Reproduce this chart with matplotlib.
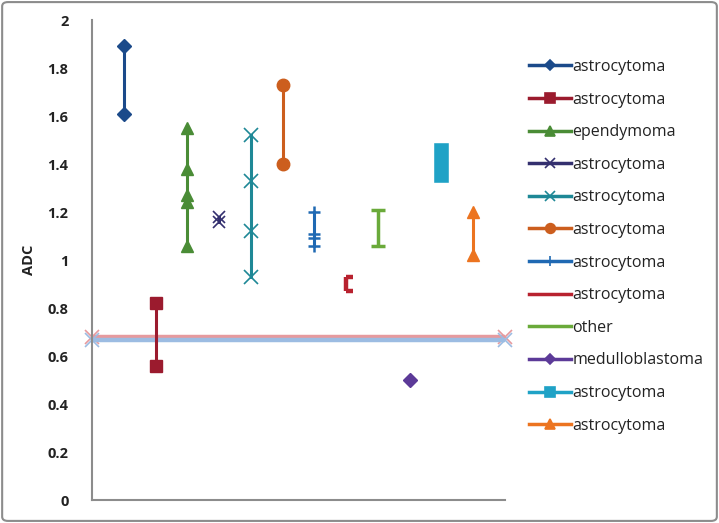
import matplotlib
matplotlib.use("Agg")
import matplotlib.pyplot as plt
from matplotlib.lines import Line2D
from matplotlib.patches import FancyBboxPatch

# ---------------- data ----------------
labels = ["astrocytoma", "astrocytoma", "ependymoma", "astrocytoma", "astrocytoma",
          "astrocytoma", "astrocytoma", "astrocytoma", "other", "medulloblastoma",
          "astrocytoma", "astrocytoma"]
s1 = [1.89, 1.61]
s2 = [0.82, 0.56]
s3 = [1.55, 1.38, 1.27, 1.24, 1.06]
s4 = [1.18, 1.16]
s5 = [1.52, 1.33, 1.12, 0.93]
s6 = [1.73, 1.40]
s7 = [1.20, 1.11, 1.09, 1.06]
s8 = [0.93, 0.87]
s9 = [1.21, 1.06]
s10 = [0.50]
s11 = [1.46, 1.355]
s12 = [1.20, 1.02]
series = [s1, s2, s3, s4, s5, s6, s7, s8, s9, s10, s11, s12]
ref_pink = 0.68
ref_blue = 0.665
ref_x = [0, 13]
yticks = [0, 0.2, 0.4, 0.6, 0.8, 1, 1.2, 1.4, 1.6, 1.8, 2]
ytick_labels = ["0", "0.2", "0.4", "0.6", "0.8", "1", "1.2", "1.4", "1.6", "1.8", "2"]

# ---------------- styles ----------------
colors = ["#1B4A8A", "#9B1B2E", "#4A8C36", "#34306F", "#1E8896", "#CC5E1E",
          "#1F69B3", "#B8222F", "#6AAA3A", "#5C3A98", "#1FA2C6", "#EC7420"]
markers = ["D", "s", "^", "x", "x", "o", "+", None, None, "D", "s", "^"]
msizes = [7, 8.5, 9, 8, 10, 9, 9, 0, 0, 7, 10.5, 9]

plt.rcParams['font.family'] = ['Open Sans', 'DejaVu Sans']

fig = plt.figure(figsize=(7.19, 5.23), dpi=100)
ax = fig.add_axes([92/719, 1-500/523, (505-92)/719, (500-20)/523])

# reference lines
ax.plot(ref_x, [ref_pink]*2, color="#E69A9E", lw=3.2, marker="x", ms=10, mew=1.2,
        solid_capstyle="butt", zorder=2, clip_on=False)
ax.plot(ref_x, [ref_blue]*2, color="#9CBCE2", lw=3.2, marker="x", ms=10, mew=1.2,
        solid_capstyle="butt", zorder=2, clip_on=False)

for i, vals in enumerate(series):
    x = [i + 1] * len(vals)
    c = colors[i]
    m = markers[i]
    if i == 10:
        ax.plot(x, vals, color=c, lw=msizes[i], solid_capstyle="projecting", zorder=3)
    elif i == 7:
        ax.plot(x, vals, color=c, lw=3.2, solid_capstyle="butt", zorder=3)
        ax.plot(x, vals, color=c, lw=0, marker=1, ms=5, mew=3.2, zorder=3)
    elif i == 8:
        ax.plot(x, vals, color=c, lw=2.5, solid_capstyle="butt", zorder=3)
        ax.plot(x, vals, color=c, lw=0, marker="_", ms=10, mew=2.5, zorder=3)
    else:
        mew = 1.2 if m == "x" else (1.8 if m == "+" else 1)
        ax.plot(x, vals, color=c, lw=2.2, marker=m, ms=msizes[i], mec=c, mfc=c,
                mew=mew, zorder=3)

ax.set_xlim(0, 13)
ax.set_ylim(0, 2)
ax.set_xticks([])
ax.set_yticks(yticks)
ax.set_yticklabels(ytick_labels, fontsize=10.5, fontweight="bold", color="#222222")
ax.tick_params(axis="y", length=0, pad=17)
for sp in ["top", "right"]:
    ax.spines[sp].set_visible(False)
for sp in ["left", "bottom"]:
    ax.spines[sp].set_color("#8C8C8C")
    ax.spines[sp].set_linewidth(1.5)
ax.set_ylabel("ADC", fontsize=10.5, fontweight="bold", color="#222222", labelpad=8)

# legend
handles = []
for i in range(12):
    m = markers[i]
    ms = {"D": 5.5, "s": 6.5, "^": 7, "x": 7, "o": 7, "+": 7}.get(m, 0) if m else 0
    handles.append(Line2D([0], [0], color=colors[i], lw=2.5, marker=m, ms=ms,
                          mec=colors[i], mfc=colors[i], mew=1.2))
fig.legend(handles, labels, loc="upper left", bbox_to_anchor=(529/719, 1-59/523),
           frameon=False, fontsize=11.5, handlelength=2.6, handletextpad=0.1,
           labelspacing=1.04, borderpad=0, borderaxespad=0, labelcolor="#222222")

# outer frame
fig.patches.append(FancyBboxPatch((0.003, 0.004), 0.994, 0.992,
                                  boxstyle="round,pad=0,rounding_size=0.008",
                                  transform=fig.transFigure, fc="none",
                                  ec="#8C8C8C", lw=1.5))

fig.savefig("out.png", dpi=100)
